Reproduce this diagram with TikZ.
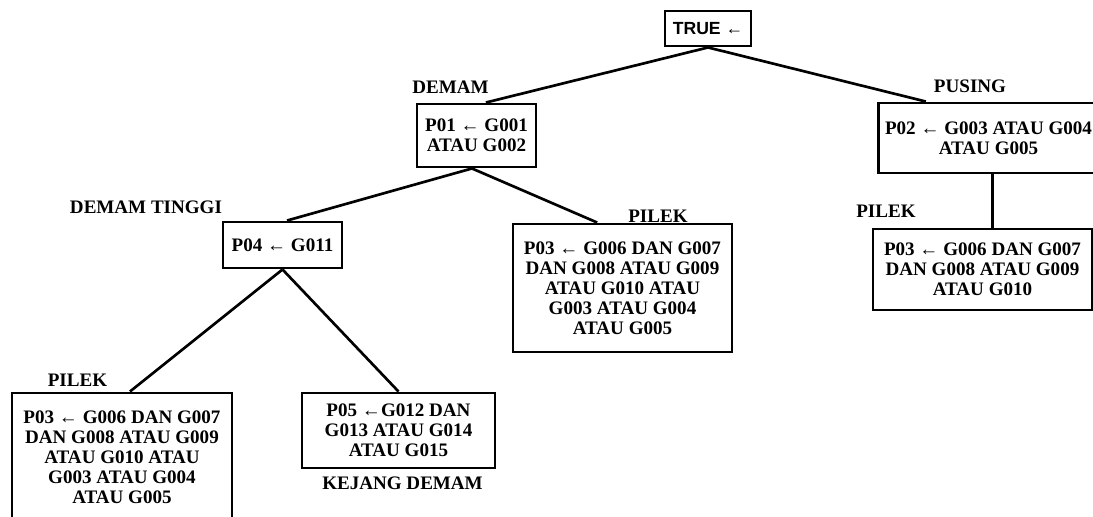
\documentclass[tikz,border=0pt]{standalone}
\usepackage{fontspec}
\setmainfont{Liberation Serif}
\newfontfamily\rootfont{Liberation Sans}
\begin{document}
\begin{tikzpicture}[x=0.75pt,y=0.75pt,yscale=-1,xscale=1,
	rulebox/.style={draw, line width=2.2pt, align=center, inner sep=0pt, font=\bfseries\fontsize{14.3}{15}\selectfont},
	branch/.style={inner sep=0pt, font=\bfseries\fontsize{14.3}{15}\selectfont},
	link/.style={line width=2pt}]
	\useasboundingbox (0,0) rectangle (1093,517);
	\clip (0,0) rectangle (1093,517);
	
	% Rule boxes
	\node [rulebox, minimum width=64.5pt, minimum height=26.25pt, font=\rootfont\bfseries\fontsize{13.2}{15}\selectfont] (root) at (708,28.5) {TRUE ←};
	\node [rulebox, minimum width=89.25pt, minimum height=47.25pt] (demam) at (476.5,135.5) {P01 ← G001\\ ATAU G002};
	\node [rulebox, minimum width=165pt, minimum height=52.5pt] (pusing) at (988.5,138) {P02 ← G003 ATAU G004\\ATAU G005};
	\node [rulebox, minimum width=89.25pt, minimum height=34.5pt] (tinggi) at (282.5,245) {P04 ← G011};
	\node [rulebox, minimum width=164.25pt, minimum height=96pt] (pilekA) at (622.5,288) {P03 ← G006 DAN G007\\DAN G008 ATAU G009\\ATAU G010 ATAU\\G003 ATAU G004\\ATAU G005};
	\node [rulebox, minimum width=164.25pt, minimum height=60.75pt] (pilekB) at (982.5,269.5) {P03 ← G006 DAN G007\\DAN G008 ATAU G009\\ATAU G010};
	\node [rulebox, minimum width=165pt, minimum height=96pt] (pilekC) at (122,457) {P03 ← G006 DAN G007\\DAN G008 ATAU G009\\ATAU G010 ATAU\\G003 ATAU G004\\ATAU G005};
	\node [rulebox, minimum width=144.75pt, minimum height=56.25pt] (kejang) at (398.5,430.5) {P05 ←G012 DAN\\G013 ATAU G014\\ATAU G015};
	
	% Branch labels
	\node [branch] (lblDemam) at (450.5,87) {DEMAM};
	\node [branch] (lblPusing) at (970,86) {PUSING};
	\node [branch] (lblTinggi) at (146,207) {DEMAM TINGGI};
	\node [branch] (lblPilekA) at (658,216) {PILEK};
	\node [branch] (lblPilekB) at (886,211) {PILEK};
	\node [branch] (lblPilekC) at (77.5,380) {PILEK};
	\node [branch] (lblKejang) at (402.5,483) {KEJANG DEMAM};
	
	% Connectors
	\draw [link] (root.south) -- ([xshift=7pt]demam.north);
	\draw [link] (root.south) -- ([xshift=-47pt]pusing.north);
	\draw [link] ([xshift=-3.4pt]demam.south) -- ([xshift=3.4pt]tinggi.north);
	\draw [link] ([xshift=-3.4pt]demam.south) -- ([xshift=-19pt]pilekA.north);
	\draw [link] ([xshift=3pt]pusing.south) -- ([xshift=3pt]pusing.south |- pilekB.north);
	\draw [link] (tinggi.south) -- ([xshift=6pt]pilekC.north);
	\draw [link] (tinggi.south) -- (kejang.north);
	
\end{tikzpicture}
\end{document}
